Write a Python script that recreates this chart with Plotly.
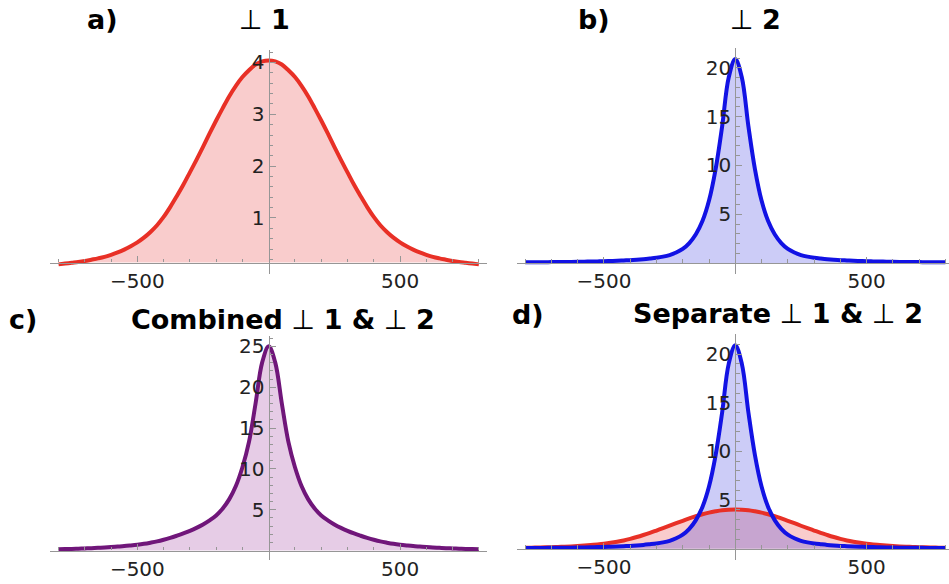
import plotly.graph_objects as go

# Sample positions along the horizontal axis (every 25 units)
X = list(range(-800, 801, 25))

# ⊥ 1 profile
PERP1 = [0.105, 0.12, 0.135, 0.15, 0.17, 0.195, 0.22, 0.25, 0.29, 0.335, 0.39, 0.455,
         0.53, 0.62, 0.73, 0.86, 1.02, 1.21, 1.42, 1.64, 1.88, 2.12, 2.37, 2.63,
         2.88, 3.12, 3.35, 3.55, 3.72, 3.85, 3.96, 4.02,
         4.04,
         4.02, 3.96, 3.85, 3.72, 3.55, 3.35, 3.12, 2.88,
         2.63, 2.37, 2.12, 1.88, 1.64, 1.42, 1.21, 1.02, 0.86, 0.73, 0.62, 0.53,
         0.455, 0.39, 0.335, 0.29, 0.25, 0.22, 0.195, 0.17, 0.15, 0.135, 0.12, 0.105]

# ⊥ 2 profile
PERP2 = [0.08, 0.085, 0.09, 0.095, 0.10, 0.105, 0.11, 0.12, 0.13, 0.145, 0.16, 0.175,
         0.19, 0.215, 0.24, 0.27, 0.30, 0.345, 0.40, 0.47, 0.55, 0.66, 0.82, 1.08,
         1.45, 2.05, 2.95, 4.3, 6.4, 9.6, 14.0, 19.0,
         20.9,
         19.0, 14.0, 9.6, 6.4, 4.3, 2.95, 2.05, 1.45,
         1.08, 0.82, 0.66, 0.55, 0.47, 0.40, 0.345, 0.30, 0.27, 0.24, 0.215, 0.19,
         0.175, 0.16, 0.145, 0.13, 0.12, 0.11, 0.105, 0.10, 0.095, 0.09, 0.085, 0.08]

# Combined ⊥ 1 & ⊥ 2 profile
COMBINED = [0.17, 0.19, 0.21, 0.24, 0.27, 0.30, 0.34, 0.38, 0.43, 0.49, 0.55, 0.63,
            0.72, 0.83, 0.97, 1.13, 1.33, 1.56, 1.82, 2.1, 2.42, 2.78, 3.2, 3.7,
            4.3, 5.15, 6.3, 7.9, 10.2, 13.3, 18.0, 23.0,
            25.0,
            23.0, 18.0, 13.3, 10.2, 7.9, 6.3, 5.15, 4.3,
            3.7, 3.2, 2.78, 2.42, 2.1, 1.82, 1.56, 1.33, 1.13, 0.97, 0.83, 0.72,
            0.63, 0.55, 0.49, 0.43, 0.38, 0.34, 0.30, 0.27, 0.24, 0.21, 0.19, 0.17]

# Tick marks
X_MAJOR = [-500, 500]
X_MAJOR_TEXT = ["\u2212500", "500"]
X_MINOR = [-800, -700, -600, -400, -300, -200, -100, 100, 200, 300, 400, 600, 700, 800]
Y_MAJOR_A = [1, 2, 3, 4]
Y_MINOR_A = [0.2, 0.4, 0.6, 0.8, 1.2, 1.4, 1.6, 1.8, 2.2, 2.4, 2.6, 2.8,
             3.2, 3.4, 3.6, 3.8, 4.2]
Y_MAJOR_B = [5, 10, 15, 20]
Y_MINOR_B = [1, 2, 3, 4, 6, 7, 8, 9, 11, 12, 13, 14, 16, 17, 18, 19, 21, 22]
Y_MAJOR_C = [5, 10, 15, 20, 25]
Y_MINOR_C = [1, 2, 3, 4, 6, 7, 8, 9, 11, 12, 13, 14, 16, 17, 18, 19, 21, 22, 23, 24, 26]

W, H = 949, 584

RED = "rgb(232,48,38)"
RED_FILL = "rgba(230,40,40,0.24)"
BLUE = "rgb(18,18,228)"
BLUE_FILL = "rgba(40,40,220,0.24)"
PURPLE = "rgb(112,22,122)"
PURPLE_FILL = "rgba(128,0,128,0.2)"
AXIS = "rgb(150,150,150)"
TICKFONT = dict(family="DejaVu Sans", size=20, color="#222")
LINE_W = 4.0

# Panel frames in pixels: (left, right), (top, bottom), x range, y range, axis height
panels = [
    dict(px=(50, 487), py=(48.3, 273.3), xr=(-832.5, 831.0), yr=(-0.088, 4.238), cross=0.14,
         ymaj=Y_MAJOR_A, ymin=Y_MINOR_A),
    dict(px=(516.7, 949), py=(46.0, 273.3), xr=(-832.0, 813.5), yr=(-1.153, 22.04), cross=0.0,
         ymaj=Y_MAJOR_B, ymin=Y_MINOR_B),
    dict(px=(50, 487), py=(335.0, 560.0), xr=(-832.5, 831.0), yr=(-1.16, 26.28), cross=0.0,
         ymaj=Y_MAJOR_C, ymin=Y_MINOR_C),
    dict(px=(516.7, 949), py=(333.3, 560.0), xr=(-832.0, 813.5), yr=(-1.157, 22.05), cross=0.0,
         ymaj=Y_MAJOR_B, ymin=Y_MINOR_B),
]

fig = go.Figure()
layout = dict(width=W, height=H, margin=dict(l=0, r=0, t=0, b=0),
              paper_bgcolor="white", plot_bgcolor="rgba(0,0,0,0)", showlegend=False)

for i, p in enumerate(panels, start=1):
    xd = [p["px"][0] / W, p["px"][1] / W]
    yd = [1 - p["py"][1] / H, 1 - p["py"][0] / H]
    xpos = xd[0] + (0 - p["xr"][0]) / (p["xr"][1] - p["xr"][0]) * (xd[1] - xd[0])
    ypos = yd[0] + (p["cross"] - p["yr"][0]) / (p["yr"][1] - p["yr"][0]) * (yd[1] - yd[0])
    sfx = "" if i == 1 else str(i)
    layout["xaxis" + sfx] = dict(
        domain=xd, range=list(p["xr"]), anchor="free", position=ypos,
        showgrid=False, zeroline=False, showline=True, linecolor=AXIS, linewidth=1.3,
        tickmode="array", tickvals=X_MAJOR, ticktext=X_MAJOR_TEXT,
        ticks="inside", ticklen=6, tickcolor=AXIS, tickwidth=1,
        minor=dict(tickmode="array", tickvals=X_MINOR, ticks="inside", ticklen=3.5,
                   tickcolor=AXIS, tickwidth=1),
        tickfont=TICKFONT, fixedrange=True)
    layout["yaxis" + sfx] = dict(
        domain=yd, range=list(p["yr"]), anchor="free", position=xpos,
        showgrid=False, zeroline=False, showline=True, linecolor=AXIS, linewidth=1.3,
        tickmode="array", tickvals=p["ymaj"], ticks="inside", ticklen=6,
        tickcolor=AXIS, tickwidth=1,
        minor=dict(tickmode="array", tickvals=p["ymin"], ticks="inside", ticklen=3.5,
                   tickcolor=AXIS, tickwidth=1),
        tickfont=TICKFONT, fixedrange=True)

SPLINE = dict(shape="spline", smoothing=1.0)

def area(xref, yref, ys, fillcolor, fill="tozeroy"):
    return go.Scatter(x=X, y=ys, xaxis=xref, yaxis=yref, mode="lines",
                      line=dict(width=0, **SPLINE), fill=fill, fillcolor=fillcolor,
                      hoverinfo="skip")

def outline(xref, yref, ys, color):
    return go.Scatter(x=X, y=ys, xaxis=xref, yaxis=yref, mode="lines",
                      line=dict(color=color, width=LINE_W, **SPLINE), hoverinfo="skip")

# a) ⊥ 1, filled down to the horizontal axis
fig.add_trace(go.Scatter(x=X, y=[panels[0]["cross"]] * len(X), xaxis="x", yaxis="y",
                         mode="lines", line=dict(width=0), hoverinfo="skip"))
fig.add_trace(area("x", "y", PERP1, RED_FILL, fill="tonexty"))
fig.add_trace(outline("x", "y", PERP1, RED))
# b) ⊥ 2
fig.add_trace(area("x2", "y2", PERP2, BLUE_FILL))
fig.add_trace(outline("x2", "y2", PERP2, BLUE))
# c) combined
fig.add_trace(area("x3", "y3", COMBINED, PURPLE_FILL))
fig.add_trace(outline("x3", "y3", COMBINED, PURPLE))
# d) both profiles overlaid: fills underneath, outlines on top
fig.add_trace(area("x4", "y4", PERP1, RED_FILL))
fig.add_trace(area("x4", "y4", PERP2, BLUE_FILL))
fig.add_trace(outline("x4", "y4", PERP1, RED))
fig.add_trace(outline("x4", "y4", PERP2, BLUE))

TITLE_FONT = dict(family="DejaVu Sans", size=27, color="black")
titles = [
    ("<b>a)</b>", 102.5, 17.5),
    ("\u22a5 <b>1</b>", 264.5, 17.5),
    ("<b>b)</b>", 594.0, 17.5),
    ("\u22a5 <b>2</b>", 755.0, 17.5),
    ("<b>c)</b>", 22.5, 319.0),
    ("<b>Combined</b> \u22a5 <b>1 &amp;</b> \u22a5 <b>2</b>", 282.7, 318.5),
    ("<b>d)</b>", 527.5, 313.5),
    ("<b>Separate</b> \u22a5 <b>1 &amp;</b> \u22a5 <b>2</b>", 778.0, 313.0),
]
layout["annotations"] = [
    dict(text=t, x=cx / W, y=1 - cy / H, xref="paper", yref="paper",
         xanchor="center", yanchor="middle", showarrow=False, font=TITLE_FONT)
    for t, cx, cy in titles
]

fig.update_layout(**layout)
fig.write_html("out.html")
